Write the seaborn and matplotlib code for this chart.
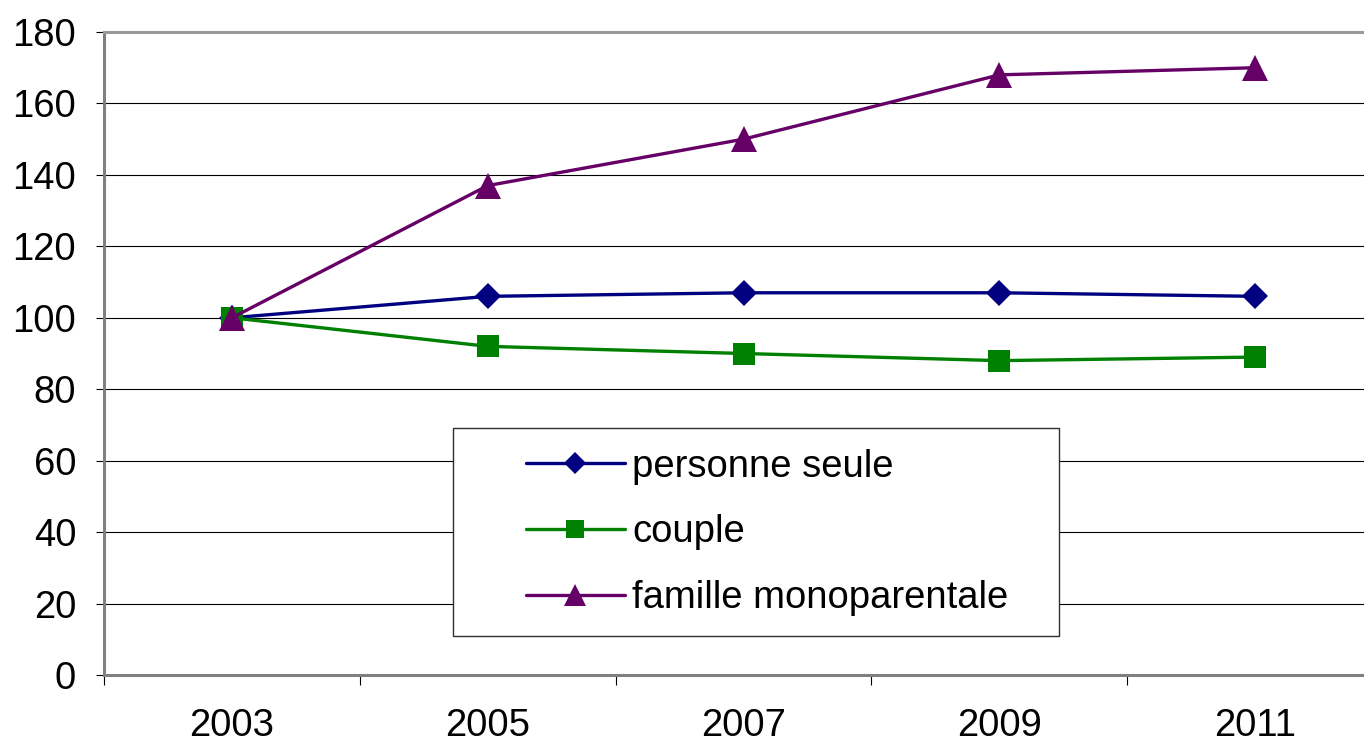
import numpy as np
import pandas as pd
import matplotlib
matplotlib.use('Agg')
from matplotlib import pyplot as plt
from matplotlib.patches import Rectangle
import seaborn as sns

# Index values (base 100 in 2003)
years = ['2003', '2005', '2007', '2009', '2011']
personne_seule = [100, 106, 107, 107, 106]
couple = [100, 92, 90, 88, 89]
famille_mono = [100, 137, 150, 168, 170]

series_names = ['personne seule', 'couple', 'famille monoparentale']
series_colors = ['#000080', '#008000', '#660066']
series_markers = ['D', 's', '^']
series_sizes = [13, 15.5, 19]

y_ticks = [0, 20, 40, 60, 80, 100, 120, 140, 160, 180]

sns.set_theme(style='white')
plt.rcParams['font.family'] = ['Liberation Sans', 'DejaVu Sans']
plt.rcParams['text.color'] = 'black'
plt.rcParams['xtick.color'] = 'black'
plt.rcParams['ytick.color'] = 'black'

# Build long-form table for seaborn
df = pd.DataFrame({
    'pos': list(range(len(years))) * 3,
    'value': personne_seule + couple + famille_mono,
    'serie': np.repeat(series_names, len(years)),
})

fig = plt.figure(figsize=(13.64, 7.47), dpi=100)
ax = fig.add_axes([104 / 1364, 1 - 675 / 747, 1 - 104 / 1364, (675 - 32) / 747])

sns.lineplot(data=df, x='pos', y='value', hue='serie', style='serie',
             palette=dict(zip(series_names, series_colors)),
             markers=dict(zip(series_names, series_markers)),
             dashes=False, linewidth=2.4, ax=ax, legend=False, zorder=6)

# set marker sizes per line (seaborn uses one size for all)
for line, ms in zip(ax.get_lines(), series_sizes):
    line.set_markersize(ms)
    line.set_markeredgewidth(0)

ax.set_yticks(y_ticks)
ax.set_yticklabels([str(t) for t in y_ticks], fontsize=27.5)
ax.yaxis.grid(True, color='black', linewidth=0.8)
ax.set_axisbelow(True)

# category boundaries carry the tick marks, labels sit at the centres
ax.set_xticks(np.arange(-0.5, len(years) - 1, 1.0))
ax.set_xticklabels([])
ax.set_xticks(range(len(years)), minor=True)
ax.set_xticklabels(years, minor=True, fontsize=27.5)
ax.tick_params(axis='x', which='major', direction='out', length=7, width=0.8,
               color='black', bottom=True)
ax.tick_params(axis='x', which='minor', length=0, pad=24)
ax.tick_params(axis='y', direction='out', length=6, width=0.8, color='black',
               left=True, pad=14)
ax.set_xlabel('')
ax.set_ylabel('')

for side in ['left', 'bottom', 'top']:
    ax.spines[side].set_color('#808080')
    ax.spines[side].set_linewidth(2.2)
ax.spines['top'].set_color('#999999')
ax.spines['right'].set_visible(False)

# legend box
box = Rectangle((453 / 1364, 1 - 636 / 747), (1059 - 453) / 1364, (636 - 428) / 747,
                transform=fig.transFigure, facecolor='white', edgecolor='#303030',
                linewidth=1, zorder=4)
ax.add_patch(box)
ax.set_xlim(-0.5, (1364 - 230) / 256.25)
ax.set_ylim(0, 180)

handles = [plt.Line2D([], [], color=c, marker=m, markersize=s * 0.85, linewidth=2.4,
                      markeredgewidth=0)
           for c, m, s in zip(series_colors, series_markers, series_sizes)]
leg = ax.legend(handles, series_names, loc='upper left',
                bbox_to_anchor=(495 / 1364, 1 - 418 / 747),
                bbox_transform=fig.transFigure, frameon=False, fontsize=27.5,
                handlelength=2.6, handletextpad=0.2, labelspacing=0.78,
                borderpad=0.3)
leg.set_zorder(7)

fig.savefig('out.png', dpi=100)
